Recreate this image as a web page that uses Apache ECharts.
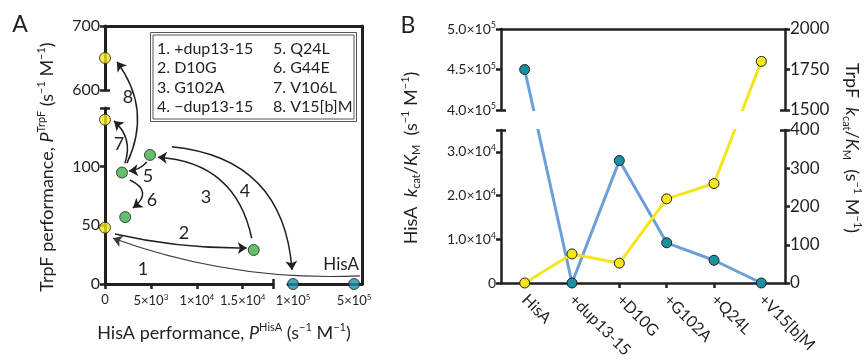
<!DOCTYPE html>
<html><head><meta charset="utf-8">
<script src="https://cdn.jsdelivr.net/npm/echarts@6/dist/echarts.min.js"></script>
<style>html,body{margin:0;padding:0;background:#fff}#c{width:866px;height:362px}</style>
</head><body><div id="c"></div>
<script>
// ================= DATA =================
// Panel A (HisA performance vs TrpF performance)
const yellowHisA = [0, 0, 0];
const yellowTrpF = [650, 140, 48];
const greenHisA = [1850, 4900, 2200, 16200];
const greenTrpF = [95, 110, 57, 29];
const tealHisA = [100000, 500000];
const tealTrpF = [0, 0];
const legendLeft = ['1. +dup13-15', '2. D10G', '3. G102A', '4. \u2212dup13-15'];
const legendRight = ['5. Q24L', '6. G44E', '7. V106L', '8. V15[b]M'];
// arrows (start / end in data units)
const arrowFromHisA = [539000, 1090, 15980, 7280, 4560, 2720, 2170, 2390];
const arrowFromTrpF = [7, 42.6, 39, 117, 104, 88.6, 103, 103];
const arrowToHisA = [870, 15440, 5760, 93400, 2610, 3040, 980, 1300];
const arrowToTrpF = [39, 30.7, 108, 12, 96.3, 64.8, 139, 644];
const arrowCurve = [0.1, -0.06, -0.38, 0.42, 0.2, 0.8, -0.33, -0.3];
const arrowLabels = ['1', '2', '3', '4', '5', '6', '7', '8'];
const ticksAxLow = [0, 5000, 10000, 15000];
const ticksAxHigh = [100000, 500000];
const ticksAyLow = [0, 50, 100];
const ticksAyHigh = [600, 700];
// Panel B
const categoriesB = ['HisA', '+dup13-15', '+D10G', '+G102A', '+Q24L', '+V15[b]M'];
const hisAKcatKm = [450000, 0, 28000, 9200, 5200, 0];
const trpFKcatKm = [0, 76, 52, 220, 260, 1800];
const ticksBLeftLow = [0, 10000, 20000, 30000];
const ticksBLeftHigh = [400000, 450000, 500000];
const ticksBRightLow = [0, 100, 200, 300, 400];
const ticksBRightHigh = [1500, 1750, 2000];

// ================= LAYOUT =================
const FONT = 'Lato';
const INK = '#231f20';
const H = 362, W = 866;
const A = {left: 105, right: 362, top: 26, bottom: 284};
const B = {left: 501, right: 785, top: 29, bottom: 283};
const AX = [{d0: 0, d1: 18300, p0: 0, p1: 168}, {d0: 67000, d1: 552000, p0: 183, p1: 257}];
const AY = [{d0: 0, d1: 150, p0: 0, p1: 176}, {d0: 600, d1: 700, p0: 194, p1: 258}];
const BL = [{d0: 0, d1: 35000, p0: 0, p1: 153}, {d0: 400000, d1: 500000, p0: 173, p1: 254}];
const BR = [{d0: 0, d1: 400, p0: 0, p1: 153}, {d0: 1500, d1: 2000, p0: 173, p1: 254}];
function mapper(segs) {
  return v => { const s = v > segs[0].d1 ? segs[1] : segs[0]; return s.p0 + (v - s.d0) / (s.d1 - s.d0) * (s.p1 - s.p0); };
}
const mAx = mapper(AX), mAy = mapper(AY), mBl = mapper(BL), mBr = mapper(BR);
const plain = v => String(v);

function sci(dec) {
  return v => {
    if (v === 0) return '0';
    const e = Math.floor(Math.log10(v) + 1e-9);
    const m = v / Math.pow(10, e);
    return '{n|' + (dec ? m.toFixed(dec) : String(Math.round(m * 10) / 10)) + '\u00d710}{e|' + e + '}';
  };
}
function sciRich(size) {
  return {n: {fontSize: size, fontFamily: FONT, color: INK, lineHeight: size + 2},
          e: {fontSize: Math.round(size * 0.62), fontFamily: FONT, color: INK, verticalAlign: 'top', lineHeight: Math.round(size * 0.62)}};
}

const grids = [
  {left: A.left, top: A.top, width: A.right - A.left, height: A.bottom - A.top},                       // 0 A overlay
  {left: A.left + AX[0].p0, top: A.top, width: AX[0].p1 - AX[0].p0, height: A.bottom - A.top},        // 1 A x seg1
  {left: A.left + AX[1].p0, top: A.top, width: AX[1].p1 - AX[1].p0, height: A.bottom - A.top},        // 2 A x seg2
  {left: A.left, top: A.bottom - AY[0].p1, width: A.right - A.left, height: AY[0].p1 - AY[0].p0},     // 3 A y low
  {left: A.left, top: A.bottom - AY[1].p1, width: A.right - A.left, height: AY[1].p1 - AY[1].p0},     // 4 A y high
  {left: B.left, top: B.top, width: B.right - B.left, height: B.bottom - B.top},                       // 5 B overlay
  {left: B.left, top: B.bottom - BL[0].p1, width: B.right - B.left, height: BL[0].p1 - BL[0].p0},     // 6 B low
  {left: B.left, top: B.bottom - BL[1].p1, width: B.right - B.left, height: BL[1].p1 - BL[1].p0}      // 7 B high
];

const lineA = {show: true, lineStyle: {color: INK, width: 3}};
const lineB = {show: true, lineStyle: {color: INK, width: 2.5}};
const tick = (vals, inside, w) => ({show: true, inside: !!inside, length: 5, customValues: vals, lineStyle: {color: INK, width: w || 2.5}});
const noLab = {show: false};
const hidden = (g, min, max) => ({gridIndex: g, type: 'value', min: min, max: max, show: false});

const xAxes = [
  hidden(0, 0, A.right - A.left),
  {gridIndex: 1, type: 'value', min: AX[0].d0, max: AX[0].d1, position: 'bottom', axisLine: lineA,
   axisTick: tick([0, 5000, 10000, 15000, AX[0].d1], false, 2.5), splitLine: {show: false},
   axisLabel: {customValues: ticksAxLow, formatter: sci(0), rich: sciRich(13), fontSize: 13, fontFamily: FONT, color: INK, margin: 9}},
  {gridIndex: 1, type: 'value', min: AX[0].d0, max: AX[0].d1, position: 'bottom', axisLine: {show: false},
   axisTick: tick([AX[0].d1], true, 2.5), axisLabel: noLab, splitLine: {show: false}},
  {gridIndex: 2, type: 'value', min: AX[1].d0, max: AX[1].d1, position: 'bottom', axisLine: lineA,
   axisTick: {show: false}, splitLine: {show: false},
   axisLabel: {customValues: ticksAxHigh, formatter: sci(0), rich: sciRich(13), fontSize: 13, fontFamily: FONT, color: INK, margin: 9}},
  hidden(3, 0, 1),
  {gridIndex: 4, type: 'value', min: 0, max: 1, position: 'top', axisLine: lineA, axisTick: {show: false}, axisLabel: noLab, splitLine: {show: false}},
  {gridIndex: 5, type: 'category', data: categoriesB, boundaryGap: true, show: false},
  {gridIndex: 6, type: 'category', data: categoriesB, boundaryGap: true, position: 'bottom', axisLine: lineB,
   axisTick: {show: true, alignWithLabel: true, length: 5, lineStyle: {color: INK, width: 2.5}},
   axisLabel: {rotate: -45, fontSize: 16, fontFamily: FONT, color: INK, margin: 14, interval: 0}},
  {gridIndex: 7, type: 'value', min: 0, max: 1, position: 'top', axisLine: lineB, axisTick: {show: false}, axisLabel: noLab, splitLine: {show: false}}
];

const yAxes = [
  hidden(0, 0, A.bottom - A.top),
  {gridIndex: 0, type: 'value', min: 0, max: A.bottom - A.top, position: 'right', axisLine: lineA, axisTick: {show: false}, axisLabel: noLab, splitLine: {show: false}},
  hidden(1, 0, 1),
  hidden(2, 0, 1),
  {gridIndex: 3, type: 'value', min: AY[0].d0, max: AY[0].d1, position: 'left', axisLine: lineA,
   axisTick: tick([0, 50, 100, 150]), splitLine: {show: false},
   axisLabel: {customValues: ticksAyLow, formatter: plain, fontSize: 16, fontFamily: FONT, color: INK, margin: 5}},
  {gridIndex: 3, type: 'value', min: AY[0].d0, max: AY[0].d1, position: 'left', axisLine: {show: false},
   axisTick: tick([150], true), axisLabel: noLab, splitLine: {show: false}},
  {gridIndex: 4, type: 'value', min: AY[1].d0, max: AY[1].d1, position: 'left', axisLine: lineA,
   axisTick: tick([600, 700]), splitLine: {show: false},
   axisLabel: {customValues: ticksAyHigh, formatter: plain, fontSize: 16, fontFamily: FONT, color: INK, margin: 5}},
  {gridIndex: 4, type: 'value', min: AY[1].d0, max: AY[1].d1, position: 'left', axisLine: {show: false},
   axisTick: tick([600], true), axisLabel: noLab, splitLine: {show: false}},
  hidden(5, 0, B.bottom - B.top),
  {gridIndex: 6, type: 'value', min: BL[0].d0, max: BL[0].d1, position: 'left', axisLine: lineB,
   axisTick: tick([0, 10000, 20000, 30000, 35000]), splitLine: {show: false},
   axisLabel: {customValues: ticksBLeftLow, formatter: sci(1), rich: sciRich(14), fontSize: 14, fontFamily: FONT, color: INK, margin: 5}},
  {gridIndex: 6, type: 'value', min: BL[0].d0, max: BL[0].d1, position: 'left', axisLine: {show: false},
   axisTick: tick([35000], true), axisLabel: noLab, splitLine: {show: false}},
  {gridIndex: 6, type: 'value', min: BR[0].d0, max: BR[0].d1, position: 'right', axisLine: lineB,
   axisTick: tick(ticksBRightLow), splitLine: {show: false},
   axisLabel: {customValues: ticksBRightLow, formatter: plain, fontSize: 17, fontFamily: FONT, color: INK, margin: 5}},
  {gridIndex: 6, type: 'value', min: BR[0].d0, max: BR[0].d1, position: 'right', axisLine: {show: false},
   axisTick: tick([400], true), axisLabel: noLab, splitLine: {show: false}},
  {gridIndex: 7, type: 'value', min: BL[1].d0, max: BL[1].d1, position: 'left', axisLine: lineB,
   axisTick: tick(ticksBLeftHigh), splitLine: {show: false},
   axisLabel: {customValues: ticksBLeftHigh, formatter: sci(1), rich: sciRich(14), fontSize: 14, fontFamily: FONT, color: INK, margin: 5}},
  {gridIndex: 7, type: 'value', min: BL[1].d0, max: BL[1].d1, position: 'left', axisLine: {show: false},
   axisTick: tick([400000], true), axisLabel: noLab, splitLine: {show: false}},
  {gridIndex: 7, type: 'value', min: BR[1].d0, max: BR[1].d1, position: 'right', axisLine: lineB,
   axisTick: tick(ticksBRightHigh), splitLine: {show: false},
   axisLabel: {customValues: ticksBRightHigh, formatter: plain, fontSize: 17, fontFamily: FONT, color: INK, margin: 5}},
  {gridIndex: 7, type: 'value', min: BR[1].d0, max: BR[1].d1, position: 'right', axisLine: {show: false},
   axisTick: tick([1500], true), axisLabel: noLab, splitLine: {show: false}}
];

const YELLOW = '#f6e71d', GREEN = '#3db049', TEAL = '#1a90a4', BLUE_LINE = '#6a9fd8', YELLOW_LINE = '#f4e51c';
const dot = c => ({color: c, borderColor: INK, borderWidth: 1});

const arrowData = arrowFromHisA.map((x, i) => ({
  coords: [[mAx(x), mAy(arrowFromTrpF[i])], [mAx(arrowToHisA[i]), mAy(arrowToTrpF[i])]],
  lineStyle: {curveness: arrowCurve[i], width: i === 0 ? 1.2 : 1.5, color: i === 0 ? '#3a3a3a' : INK}
}));

const series = [
  {type: 'lines', coordinateSystem: 'cartesian2d', xAxisIndex: 0, yAxisIndex: 0, z: 2,
   symbol: ['none', 'arrow'], symbolSize: 9, lineStyle: {color: INK, width: 1.5, opacity: 1}, data: arrowData, silent: true},
  {type: 'scatter', xAxisIndex: 0, yAxisIndex: 0, z: 3, symbolSize: 11, itemStyle: dot(YELLOW),
   data: yellowHisA.map((x, i) => [mAx(x), mAy(yellowTrpF[i])])},
  {type: 'scatter', xAxisIndex: 0, yAxisIndex: 0, z: 3, symbolSize: 11, itemStyle: dot(GREEN),
   data: greenHisA.map((x, i) => [mAx(x), mAy(greenTrpF[i])])},
  {type: 'scatter', xAxisIndex: 0, yAxisIndex: 0, z: 3, symbolSize: 11, itemStyle: dot(TEAL),
   data: tealHisA.map((x, i) => [mAx(x), mAy(tealTrpF[i])])},
  {type: 'line', xAxisIndex: 6, yAxisIndex: 8, z: 2, symbol: 'circle', symbolSize: 10, showAllSymbol: true,
   lineStyle: {color: BLUE_LINE, width: 3}, itemStyle: dot(TEAL), data: hisAKcatKm.map(mBl)},
  {type: 'line', xAxisIndex: 6, yAxisIndex: 8, z: 2, symbol: 'circle', symbolSize: 10, showAllSymbol: true,
   lineStyle: {color: YELLOW_LINE, width: 3}, itemStyle: dot(YELLOW), data: trpFKcatKm.map(mBr)},
  {type: 'custom', xAxisIndex: 6, yAxisIndex: 8, z: 4, silent: true, data: [[0, categoriesB.length - 1]],
   renderItem: (params, api) => {
     const p1 = api.coord([api.value(0), BL[0].p1 + 1]);
     const p2 = api.coord([api.value(1), BL[1].p0 - 1]);
     return {type: 'rect', shape: {x: p1[0], y: p2[1], width: p2[0] - p1[0], height: p1[1] - p2[1]}, style: {fill: '#fff'}};
   }}
];

function rt(size) {
  const s = Math.round(size * 0.6);
  return {
    a: {fontSize: size, fontFamily: FONT, fill: INK, lineHeight: size + 4},
    i: {fontSize: size, fontFamily: FONT, fontStyle: 'italic', fill: INK, lineHeight: size + 4},
    p: {fontSize: s, fontFamily: FONT, fill: INK, verticalAlign: 'top', lineHeight: s},
    b: {fontSize: s, fontFamily: FONT, fill: INK, verticalAlign: 'bottom', lineHeight: s}
  };
}
function txt(x, y, rot, text, size, align) {
  return {type: 'text', x: x, y: y, rotation: rot, silent: true, z: 10,
    style: {text: text, fontFamily: FONT, fontSize: size, fill: INK, align: align || 'center', verticalAlign: 'middle', rich: rt(size)}};
}
const arrowLabelPos = [[143, 269], [184, 233], [206, 197], [245, 191], [148, 176], [152, 200], [119, 144], [128, 97]];
const graphics = [
  txt(20, 25, 0, '{a|A}', 23),
  txt(408, 26, 0, '{a|B}', 23),
  txt(224, 333, 0, '{a|HisA performance, }{i|P}{p|HisA}{a| (s}{p|\u22121}{a| M}{p|\u22121}{a|)}', 18),
  txt(47, 167, Math.PI / 2, '{a|TrpF performance, }{i|P}{p|TrpF}{a| (s}{p|\u22121}{a| M}{p|\u22121}{a|)}', 18),
  txt(411, 158, Math.PI / 2, '{a|HisA  }{i|k}{b|cat}{a|/}{i|K}{b|M}{a|  (s}{p|\u22121}{a| M}{p|\u22121}{a|)}', 18),
  txt(852, 148, -Math.PI / 2, '{a|TrpF  }{i|k}{b|cat}{a|/}{i|K}{b|M}{a|  (s}{p|\u22121}{a| M}{p|\u22121}{a|)}', 18),
  txt(359, 265, 0, '{a|HisA}', 17, 'right'),
  {type: 'rect', z: 9, silent: true, shape: {x: 150.5, y: 32.5, width: 206, height: 89}, style: {fill: '#fff', stroke: '#555', lineWidth: 1}},
  {type: 'rect', z: 9, silent: true, shape: {x: 153, y: 35, width: 201, height: 84}, style: {fill: 'none', stroke: '#555', lineWidth: 1}}
];
arrowLabels.forEach((l, i) => graphics.push(txt(arrowLabelPos[i][0], arrowLabelPos[i][1], 0, '{a|' + l + '}', 18)));
const legendRows = [49, 68, 88, 107];
legendLeft.forEach((t, i) => graphics.push(txt(157, legendRows[i], 0, '{a|' + t + '}', 16, 'left')));
legendRight.forEach((t, i) => graphics.push(txt(273, legendRows[i], 0, '{a|' + t + '}', 16, 'left')));

const chart = echarts.init(document.getElementById('c'), null, {renderer: 'canvas', width: W, height: H});
chart.setOption({
  animation: false,
  backgroundColor: '#fff',
  textStyle: {fontFamily: FONT, color: INK},
  grid: grids,
  xAxis: xAxes,
  yAxis: yAxes,
  series: series,
  graphic: graphics
});
</script></body></html>
